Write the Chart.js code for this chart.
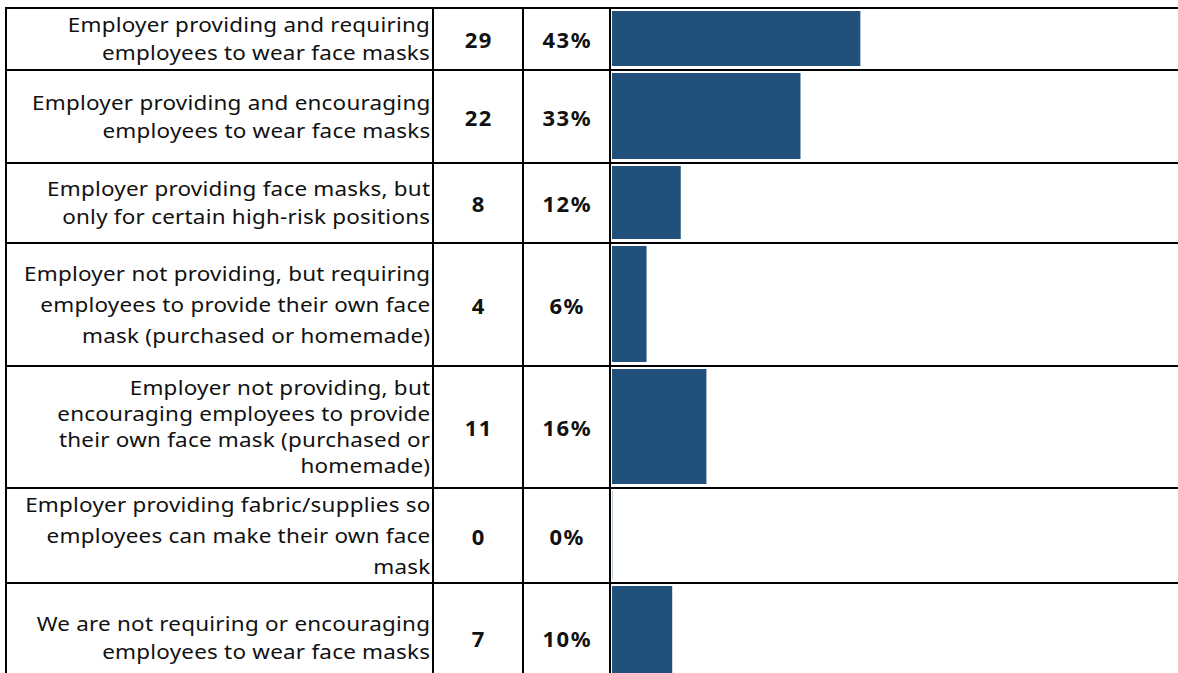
<!DOCTYPE html>
<html>
<head>
<meta charset="utf-8">
<title>Face mask policies</title>
<script src="https://cdn.jsdelivr.net/npm/chart.js@4.4.1/dist/chart.umd.min.js"></script>
<style>
    html, body {
        margin: 0;
        padding: 0;
        background: #ffffff;
        width: 1178px;
        height: 673px;
        overflow: hidden;
    }
    /* table grid: answer | count | percent | bar */
    .grid {
        position: absolute;
        left: 5px;
        top: 7px;
        display: grid;
        grid-template-columns: 427px 90px 87px 620px;
        grid-template-rows: 62px 93px 80px 123px 122px 95px 110px;
        font-family: "Noto Sans", sans-serif;
        color: #111;
    }
    .cell {
        box-sizing: border-box;
        border-top: 2px solid #000;
        border-left: 2px solid #000;
        display: flex;
        align-items: center;
        overflow: hidden;
    }
    .answer {
        justify-content: flex-end;
        text-align: right;
        padding-right: 2px;
        font-size: 19.5px;
        letter-spacing: 0.2px;
        line-height: 28px;
    }
    /* widen the glyphs a little so the lines run as long as in the table */
    .answer span {
        display: inline-block;
        transform: scaleX(1.15);
        transform-origin: right center;
    }
    .answer.tall { line-height: 31px; }
    .answer.tight { line-height: 26px; }
    .num {
        justify-content: center;
        font-weight: bold;
        font-size: 22px;
        letter-spacing: 1.5px;
        padding-left: 1.5px;
    }
    .bar {
        align-items: stretch;
        padding: 2px 0 3px 1px;
    }
    .bar canvas {
        display: block;
    }
</style>
</head>
<body>
<div class="grid" id="grid"></div>

<script>
// Answer text, one entry per line as it wraps in the table
const answers = [
    ['Employer providing and requiring', 'employees to wear face masks'],
    ['Employer providing and encouraging', 'employees to wear face masks'],
    ['Employer providing face masks, but', 'only for certain high-risk positions'],
    ['Employer not providing, but requiring', 'employees to provide their own face', 'mask (purchased or homemade)'],
    ['Employer not providing, but', 'encouraging employees to provide', 'their own face mask (purchased or', 'homemade)'],
    ['Employer providing fabric/supplies so', 'employees can make their own face', 'mask'],
    ['We are not requiring or encouraging', 'employees to wear face masks']
];
const counts = [29, 22, 8, 4, 11, 0, 7];
const percents = [43, 33, 12, 6, 16, 0, 10];
const respondents = 67;

const barColor = '#21507a';
const grid = document.getElementById('grid');

function addCell(cls, html) {
    const div = document.createElement('div');
    div.className = 'cell ' + cls;
    if (html !== undefined) div.innerHTML = html;
    grid.appendChild(div);
    return div;
}

answers.forEach((lines, i) => {
    // three-line answers sit more spread out, the four-line one tighter
    let cls = 'answer';
    if (lines.length === 3) cls += ' tall';
    if (lines.length === 4) cls += ' tight';
    addCell(cls, '<span>' + lines.join('<br>') + '</span>');
    addCell('num', String(counts[i]));
    addCell('num', percents[i] + '%');
    const barCell = addCell('bar');
    barCell.appendChild(document.createElement('canvas'));
});

// one horizontal bar per row, all sharing the same 0..respondents scale
document.querySelectorAll('.bar').forEach((cell, i) => {
    const canvas = cell.querySelector('canvas');
    const h = cell.clientHeight - 5;
    canvas.width = 573;
    canvas.height = h;
    canvas.style.width = '573px';
    canvas.style.height = h + 'px';

    new Chart(canvas, {
        type: 'bar',
        data: {
            labels: [answers[i].join(' ')],
            datasets: [{
                data: [counts[i]],
                backgroundColor: barColor,
                borderWidth: 0,
                barPercentage: 1,
                categoryPercentage: 1
            }]
        },
        options: {
            indexAxis: 'y',
            responsive: false,
            animation: false,
            layout: { padding: 0 },
            plugins: {
                legend: { display: false },
                tooltip: { enabled: false }
            },
            scales: {
                x: { display: false, min: 0, max: respondents },
                y: { display: false }
            }
        }
    });
});
</script>
</body>
</html>
